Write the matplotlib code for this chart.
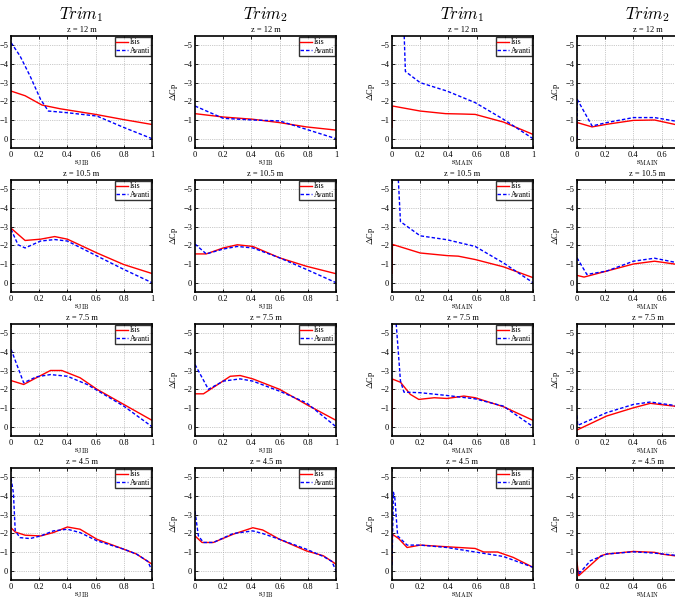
import matplotlib
matplotlib.use("Agg")
import matplotlib.pyplot as plt

plt.rcParams['font.family'] = ['Liberation Serif', 'DejaVu Serif']
plt.rcParams['mathtext.fontset'] = 'cm'

# rows (height on the sail) and columns (trim / sail)
heights = ['z = 12 m', 'z = 10.5 m', 'z = 7.5 m', 'z = 4.5 m']
trims = [r'$Trim_1$', r'$Trim_2$', r'$Trim_1$', r'$Trim_2$']
sails = ['JIB', 'JIB', 'MAIN', 'MAIN']
s_ticks = [0, 0.2, 0.4, 0.6, 0.8, 1]
s_tick_labels = ['0', '0.2', '0.4', '0.6', '0.8', '1']
cp_ticks = [-5, -4, -3, -2, -1, 0]

# --- jib, trim 1 ---  (s, delta Cp)
isis_j1_z12 = [(0, -2.55), (0.1, -2.3), (0.22, -1.8), (0.35, -1.6), (0.6, -1.3), (0.8, -1.02), (1.0, -0.76)]
avanti_j1_z12 = [(0, -5.15), (0.064, -4.43), (0.135, -3.36), (0.21, -2.1), (0.265, -1.48), (0.4, -1.39),
                 (0.61, -1.21), (0.8, -0.6), (1.0, 0.0)]
isis_j1_z105 = [(0, -2.92), (0.1, -2.26), (0.21, -2.33), (0.31, -2.47), (0.4, -2.33), (0.61, -1.59),
                (0.8, -0.97), (1.0, -0.49)]
avanti_j1_z105 = [(0, -2.86), (0.05, -2.03), (0.1, -1.86), (0.21, -2.23), (0.31, -2.31), (0.4, -2.23),
                  (0.61, -1.43), (0.8, -0.71), (1.0, 0.0)]
isis_j1_z75 = [(0, -2.47), (0.09, -2.26), (0.18, -2.62), (0.28, -3.01), (0.36, -3.01), (0.49, -2.62),
               (0.61, -2.0), (0.8, -1.19), (1.0, -0.34)]
avanti_j1_z75 = [(0, -4.15), (0.09, -2.35), (0.18, -2.67), (0.28, -2.79), (0.4, -2.7), (0.54, -2.26),
                 (0.8, -1.1), (1.0, 0.0)]
isis_j1_z45 = [(0, -2.3), (0.03, -2.07), (0.1, -1.9), (0.21, -1.86), (0.3, -2.04), (0.4, -2.34),
               (0.49, -2.22), (0.61, -1.68), (0.8, -1.15), (0.89, -0.89), (1.0, -0.35)]
avanti_j1_z45 = [(0, -4.96), (0.017, -4.17), (0.03, -2.13), (0.064, -1.77), (0.135, -1.72), (0.21, -1.86),
                 (0.3, -2.13), (0.4, -2.22), (0.49, -2.04), (0.61, -1.6), (0.8, -1.15), (0.89, -0.89),
                 (0.97, -0.5), (1.0, 0.0)]

# --- jib, trim 2 ---
isis_j2_z12 = [(0, -1.34), (0.2, -1.16), (0.41, -1.04), (0.6, -0.86), (0.79, -0.63), (1.0, -0.46)]
avanti_j2_z12 = [(0, -1.75), (0.2, -1.09), (0.41, -1.0), (0.6, -0.95), (0.79, -0.5), (1.0, 0.0)]
isis_j2_z105 = [(0, -1.54), (0.08, -1.54), (0.2, -1.86), (0.3, -2.03), (0.41, -1.94), (0.6, -1.33),
                (0.79, -0.88), (1.0, -0.48)]
avanti_j2_z105 = [(0, -2.07), (0.08, -1.54), (0.2, -1.8), (0.3, -1.94), (0.41, -1.86), (0.6, -1.33),
                  (0.79, -0.71), (1.0, 0.0)]
isis_j2_z75 = [(0, -1.76), (0.06, -1.76), (0.18, -2.35), (0.25, -2.7), (0.32, -2.74), (0.41, -2.56),
               (0.6, -2.0), (0.79, -1.19), (1.0, -0.34)]
avanti_j2_z75 = [(0, -3.33), (0.095, -2.0), (0.2, -2.44), (0.32, -2.56), (0.41, -2.44), (0.6, -1.9),
                 (0.79, -1.28), (1.0, 0.0)]
isis_j2_z45 = [(0, -1.86), (0.05, -1.51), (0.13, -1.51), (0.27, -1.95), (0.41, -2.3), (0.48, -2.18),
               (0.6, -1.68), (0.79, -1.06), (0.91, -0.8), (1.0, -0.35)]
avanti_j2_z45 = [(0, -3.19), (0.024, -1.86), (0.06, -1.51), (0.13, -1.51), (0.27, -1.99), (0.41, -2.13),
                 (0.48, -1.99), (0.6, -1.68), (0.79, -1.15), (0.91, -0.76), (0.97, -0.5), (1.0, 0.0)]

# --- main, trim 1 ---
isis_m1_z12 = [(0, -0.6), (0.003, -1.75), (0.2, -1.48), (0.38, -1.34), (0.5, -1.32), (0.59, -1.3),
               (0.79, -0.89), (1.0, -0.23)]
avanti_m1_z12 = [(0.08, -7.0), (0.095, -3.6), (0.2, -3.0), (0.39, -2.55), (0.59, -1.93), (0.79, -1.04),
                 (1.0, 0.0)]
isis_m1_z105 = [(0, -0.5), (0.003, -2.05), (0.2, -1.59), (0.39, -1.45), (0.47, -1.42), (0.59, -1.24),
                (0.79, -0.85), (1.0, -0.27)]
avanti_m1_z105 = [(0.035, -7.0), (0.06, -3.27), (0.2, -2.51), (0.39, -2.3), (0.59, -1.94), (0.79, -1.06),
                  (1.0, 0.0)]
isis_m1_z75 = [(0, 0.0), (0.003, -2.55), (0.06, -2.38), (0.13, -1.73), (0.19, -1.46), (0.3, -1.55),
               (0.39, -1.51), (0.51, -1.64), (0.59, -1.55), (0.79, -1.07), (1.0, -0.34)]
avanti_m1_z75 = [(0.015, -7.0), (0.06, -2.45), (0.085, -1.85), (0.2, -1.82), (0.39, -1.67), (0.59, -1.49),
                 (0.79, -1.1), (1.0, 0.0)]
isis_m1_z45 = [(0, -0.44), (0.003, -1.95), (0.047, -1.72), (0.107, -1.24), (0.2, -1.37), (0.39, -1.28),
               (0.59, -1.19), (0.65, -1.0), (0.75, -1.0), (0.86, -0.71), (1.0, -0.18)]
avanti_m1_z45 = [(0, -0.3), (0.01, -4.2), (0.02, -3.9), (0.04, -1.86), (0.107, -1.37), (0.2, -1.37),
                 (0.39, -1.24), (0.59, -1.0), (0.79, -0.76), (1.0, -0.18)]

# --- main, trim 2 ---
isis_m2_z12 = [(0, 0.0), (0.002, -0.86), (0.107, -0.63), (0.21, -0.77), (0.4, -0.98), (0.55, -1.0),
               (0.69, -0.77), (0.85, -0.5), (1.0, -0.15)]
avanti_m2_z12 = [(0, 0.0), (0.002, -2.1), (0.107, -0.68), (0.21, -0.86), (0.4, -1.13), (0.55, -1.13),
                 (0.69, -0.95), (0.85, -0.55), (1.0, 0.0)]
isis_m2_z105 = [(0, -0.39), (0.05, -0.3), (0.21, -0.62), (0.4, -1.0), (0.55, -1.15), (0.69, -1.0),
                (0.85, -0.65), (1.0, -0.2)]
avanti_m2_z105 = [(0, -1.33), (0.07, -0.44), (0.21, -0.62), (0.4, -1.15), (0.55, -1.31), (0.69, -1.1),
                  (0.85, -0.65), (1.0, 0.0)]
isis_m2_z75 = [(0, 0.18), (0.07, -0.07), (0.21, -0.57), (0.4, -1.01), (0.52, -1.25), (0.69, -1.1),
               (0.85, -0.7), (1.0, -0.25)]
avanti_m2_z75 = [(0, -0.6), (0.005, -0.07), (0.21, -0.75), (0.4, -1.19), (0.52, -1.32), (0.69, -1.14),
                 (0.85, -0.7), (1.0, 0.0)]
isis_m2_z45 = [(0, -0.44), (0.012, 0.27), (0.17, -0.8), (0.21, -0.89), (0.4, -1.03), (0.55, -0.98),
               (0.6, -0.89), (0.69, -0.8), (0.85, -0.55), (1.0, -0.15)]
avanti_m2_z45 = [(0, -0.09), (0.012, 0.18), (0.095, -0.53), (0.21, -0.89), (0.4, -1.01), (0.55, -0.94),
                 (0.69, -0.83), (0.85, -0.55), (1.0, 0.0)]

isis = [[isis_j1_z12, isis_j2_z12, isis_m1_z12, isis_m2_z12],
        [isis_j1_z105, isis_j2_z105, isis_m1_z105, isis_m2_z105],
        [isis_j1_z75, isis_j2_z75, isis_m1_z75, isis_m2_z75],
        [isis_j1_z45, isis_j2_z45, isis_m1_z45, isis_m2_z45]]
avanti = [[avanti_j1_z12, avanti_j2_z12, avanti_m1_z12, avanti_m2_z12],
          [avanti_j1_z105, avanti_j2_z105, avanti_m1_z105, avanti_m2_z105],
          [avanti_j1_z75, avanti_j2_z75, avanti_m1_z75, avanti_m2_z75],
          [avanti_j1_z45, avanti_j2_z45, avanti_m1_z45, avanti_m2_z45]]

W, H = 675, 599
fig = plt.figure(figsize=(W / 100, H / 100), dpi=100)

# the last column runs past the right edge, as in the cropped original
col_left = [11, 195, 392, 577]
row_top = [36, 180, 324, 468]
aw, ah = 141, 112

for r in range(4):
    for c in range(4):
        ax = fig.add_axes([col_left[c] / W, 1 - (row_top[r] + ah) / H, aw / W, ah / H])
        xi, yi = zip(*isis[r][c])
        xa, ya = zip(*avanti[r][c])
        ax.plot(xi, yi, color='red', lw=1.0, label='Isis')
        ax.plot(xa, ya, color='blue', lw=1.0, ls=(0, (2.5, 1.5)), label='Avanti')
        ax.set_xlim(0, 1)
        ax.set_ylim(0.5, -5.5)
        ax.set_xticks(s_ticks)
        if c < 3:
            ax.set_xticklabels(s_tick_labels)
        else:  # labels past the crop edge are not shown
            ax.set_xticklabels(s_tick_labels[:4] + ['', ''])
        ax.set_yticks(cp_ticks)
        ax.tick_params(direction='in', labelsize=6, length=2, width=0.6, pad=2,
                       top=True, right=True)
        ax.grid(True, ls=':', color='#999999', lw=0.5)
        for sp in ax.spines.values():
            sp.set_linewidth(1.2)
        ax.set_title(heights[r], fontsize=6, pad=3)
        ax.set_xlabel(r'$\mathrm{s}_{\mathrm{%s}}$' % sails[c], fontsize=6.5, labelpad=0)
        if c > 0:
            ax.set_ylabel(r'$\Delta$Cp', fontsize=6, labelpad=2)
        if c < 3:  # the legend of the last column lies outside the crop
            leg = ax.legend(loc='upper right', fontsize=5.5, handlelength=1.6, handletextpad=0.2,
                            borderpad=0.15, labelspacing=0.05, borderaxespad=0.15, fancybox=False)
            leg.get_frame().set_edgecolor('black')
            leg.get_frame().set_linewidth(1.0)

for c in range(4):
    fig.text((col_left[c] + aw / 2) / W, 1 - 15 / H, trims[c], fontsize=12,
             ha='center', va='center')

fig.savefig('out.png', dpi=100)
